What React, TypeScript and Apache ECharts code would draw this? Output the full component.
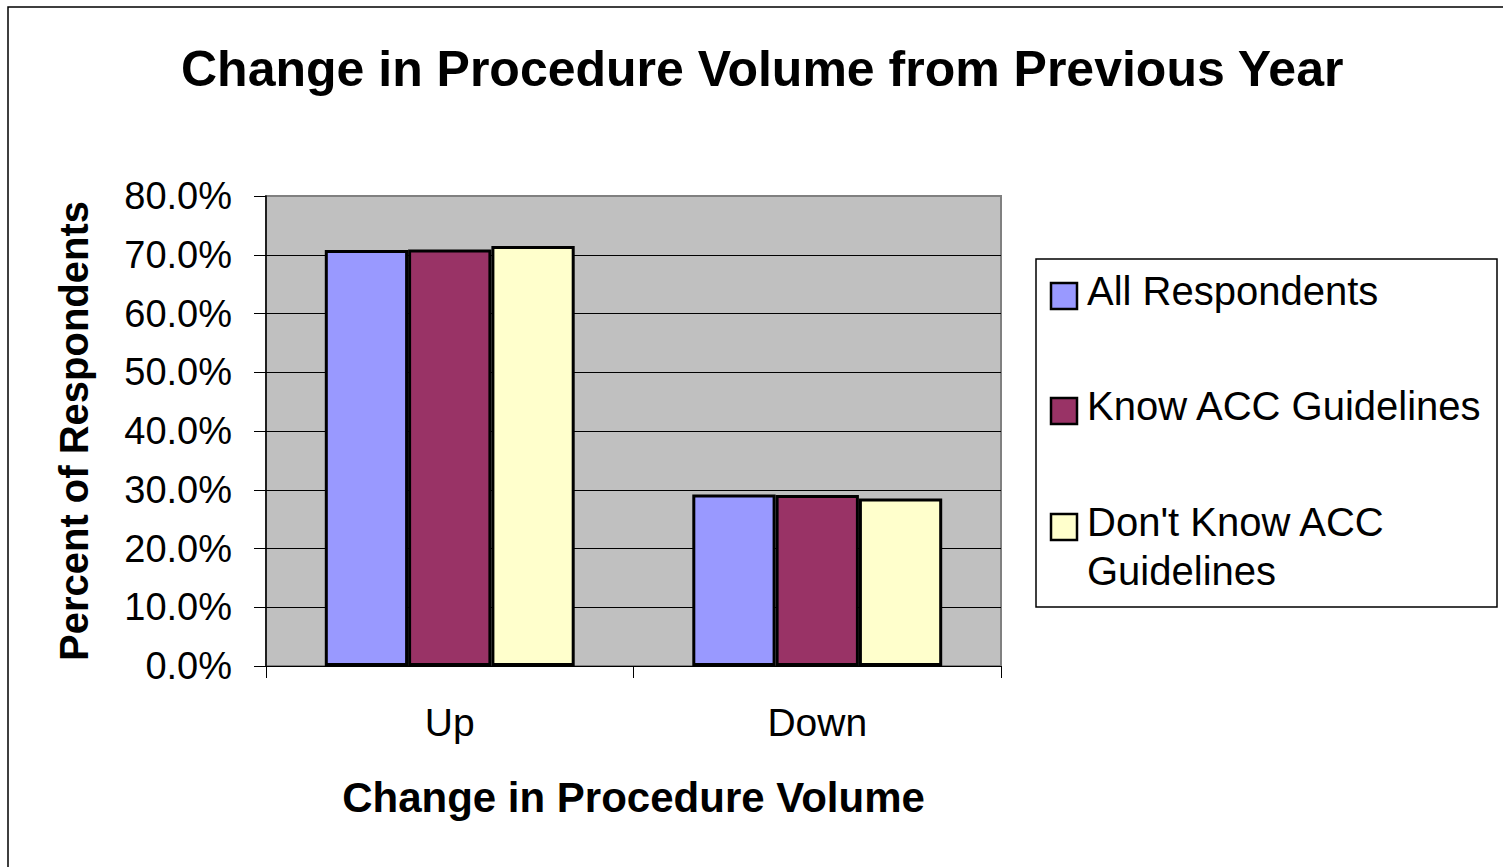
import React, { useEffect, useRef } from "react";
import * as echarts from "echarts";

const categories = ["Up", "Down"];
const seriesNames = ["All Respondents", "Know ACC Guidelines", "Don't Know ACC Guidelines"];
const legendLabels = ["All Respondents", "Know ACC Guidelines", "Don't Know ACC\nGuidelines"];
const allRespondents = [70.8, 29.2];
const knowGuidelines = [70.9, 29.1];
const dontKnowGuidelines = [71.5, 28.5];
const colors = ["#9999FF", "#993366", "#FFFFCC"];
const yTicks = [0, 10, 20, 30, 40, 50, 60, 70, 80];

const FONT = "'Liberation Sans', Arial, sans-serif";

export default function App() {
  const ref = useRef<HTMLDivElement>(null);
  useEffect(() => {
    if (!ref.current) return;
    const chart = echarts.init(ref.current, null, { renderer: "svg" });
    const values = [allRespondents, knowGuidelines, dontKnowGuidelines];
    const squareCenters = [296, 411, 527];
    const legendGraphics: any[] = [];
    legendLabels.forEach((lab, i) => {
      legendGraphics.push({
        type: "rect",
        shape: { x: 1051, y: squareCenters[i] - 13, width: 26, height: 26 },
        style: { fill: colors[i], stroke: "#000", lineWidth: 2.5 },
        z: 10,
      });
      legendGraphics.push({
        type: "text",
        x: 1087,
        y: squareCenters[i] - 30,
        style: {
          text: lab,
          font: `40px ${FONT}`,
          fill: "#000",
          lineHeight: 49,
          verticalAlign: "top",
        },
        z: 10,
      });
    });
    chart.setOption({
      animation: false,
      backgroundColor: "#fff",
      title: {
        text: "Change in Procedure Volume from Previous Year",
        left: 176,
        top: 39,
        textStyle: { fontFamily: FONT, fontSize: 50, fontWeight: "bold", color: "#000" },
      },
      grid: { left: 266, right: 502, top: 196, bottom: 201, containLabel: false,
        show: true, backgroundColor: "#C0C0C0", borderColor: "#808080", borderWidth: 2 },
      xAxis: {
        type: "category",
        data: categories,
        name: "Change in Procedure Volume",
        nameLocation: "middle",
        nameGap: 110,
        nameTextStyle: { fontFamily: FONT, fontSize: 42, fontWeight: "bold", color: "#000" },
        axisLine: { lineStyle: { color: "#000", width: 1 } },
        axisTick: { show: true, length: 12, lineStyle: { color: "#000" } },
        axisLabel: { fontFamily: FONT, fontSize: 39, color: "#000", margin: 37 },
      },
      yAxis: {
        type: "value",
        min: 0,
        max: 80,
        interval: 10,
        name: "Percent of Respondents",
        nameLocation: "middle",
        nameGap: 172,
        nameTextStyle: { fontFamily: FONT, fontSize: 40, fontWeight: "bold", color: "#000" },
        axisLine: { show: true, lineStyle: { color: "#000", width: 1.5 } },
        axisTick: { show: true, length: 12, lineStyle: { color: "#000" } },
        axisLabel: {
          fontFamily: FONT, fontSize: 38, color: "#000", margin: 34,
          formatter: (v: number) => (yTicks.includes(v) ? v.toFixed(1) + "%" : ""),
        },
        splitLine: { show: true, showMaxLine: false, lineStyle: { color: "#000", width: 1 } },
      },
      series: seriesNames.map((name, i) => ({
        name,
        type: "bar",
        data: values[i],
        barGap: "0%",
        barCategoryGap: "32%",
        itemStyle: { color: colors[i], borderColor: "#000", borderWidth: 3 },
      })),
      graphic: [
        {
          type: "rect",
          shape: { x: 8, y: 7, width: 1700, height: 1000 },
          style: { fill: "none", stroke: "#000", lineWidth: 1.5 },
          z: -1,
        },
        {
          type: "rect",
          shape: { x: 1036, y: 259, width: 461, height: 348 },
          style: { fill: "#fff", stroke: "#000", lineWidth: 1.5 },
          z: 5,
        },
        ...legendGraphics,
      ],
    });
    return () => chart.dispose();
  }, []);
  return (
    <div
      ref={ref}
      style={{ position: "fixed", left: 0, top: 0, width: 1503, height: 867 }}
    />
  );
}
